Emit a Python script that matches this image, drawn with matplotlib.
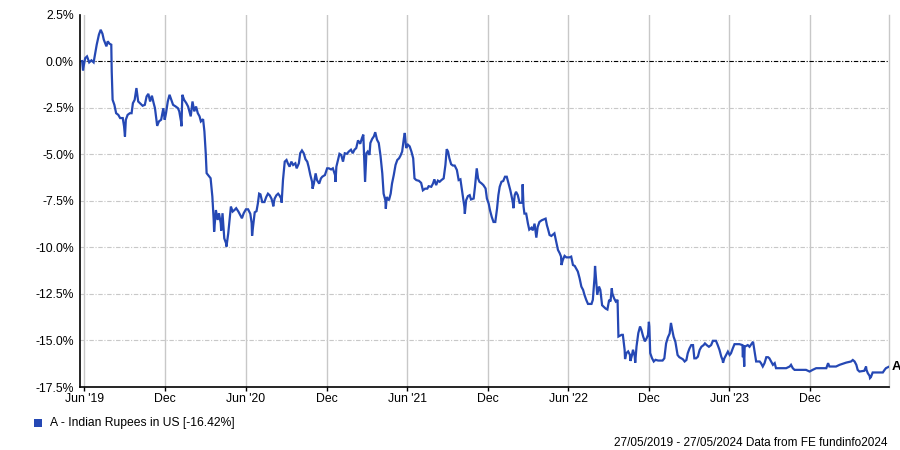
import matplotlib
matplotlib.use("Agg")
import matplotlib.pyplot as plt
from matplotlib.patches import Rectangle
import pandas as pd

plt.rcParams['font.family'] = ['Liberation Sans', 'DejaVu Sans']

dates = [
    "2019-05-27", "2019-05-29", "2019-05-31", "2019-06-03", "2019-06-07", "2019-06-12", "2019-06-17", "2019-06-22",
    "2019-06-25", "2019-06-29", "2019-07-04", "2019-07-08", "2019-07-12", "2019-07-15", "2019-07-21", "2019-07-24",
    "2019-07-28", "2019-08-01", "2019-08-02", "2019-08-04", "2019-08-08", "2019-08-12", "2019-08-17", "2019-08-21",
    "2019-08-27", "2019-08-30", "2019-09-01", "2019-09-03", "2019-09-07", "2019-09-12", "2019-09-16", "2019-09-19",
    "2019-09-23", "2019-09-27", "2019-10-01", "2019-10-05", "2019-10-11", "2019-10-16", "2019-10-20", "2019-10-24",
    "2019-10-28", "2019-11-01", "2019-11-05", "2019-11-08", "2019-11-13", "2019-11-17", "2019-11-22", "2019-11-27",
    "2019-11-30", "2019-12-03", "2019-12-07", "2019-12-11", "2019-12-15", "2019-12-19", "2019-12-25", "2019-12-30",
    "2020-01-02", "2020-01-06", "2020-01-07", "2020-01-09", "2020-01-13", "2020-01-18", "2020-01-22", "2020-01-28",
    "2020-02-01", "2020-02-05", "2020-02-09", "2020-02-13", "2020-02-17", "2020-02-20", "2020-02-25", "2020-02-28",
    "2020-03-02", "2020-03-04", "2020-03-10", "2020-03-13", "2020-03-17", "2020-03-20", "2020-03-21", "2020-03-25",
    "2020-03-29", "2020-04-01", "2020-04-05", "2020-04-06", "2020-04-09", "2020-04-13", "2020-04-17", "2020-04-18",
    "2020-04-22", "2020-04-25", "2020-04-28", "2020-05-02", "2020-05-06", "2020-05-10", "2020-05-15", "2020-05-19",
    "2020-05-23", "2020-05-27", "2020-06-01", "2020-06-06", "2020-06-11", "2020-06-14", "2020-06-15", "2020-06-17",
    "2020-06-21", "2020-06-25", "2020-06-28", "2020-07-01", "2020-07-04", "2020-07-08", "2020-07-13", "2020-07-17",
    "2020-07-21", "2020-07-25", "2020-07-29", "2020-08-01", "2020-08-02", "2020-08-05", "2020-08-09", "2020-08-13",
    "2020-08-16", "2020-08-20", "2020-08-21", "2020-08-24", "2020-08-28", "2020-09-01", "2020-09-04", "2020-09-08",
    "2020-09-12", "2020-09-16", "2020-09-21", "2020-09-24", "2020-09-29", "2020-10-02", "2020-10-06", "2020-10-10",
    "2020-10-14", "2020-10-18", "2020-10-21", "2020-10-25", "2020-10-29", "2020-10-30", "2020-11-02", "2020-11-06",
    "2020-11-09", "2020-11-14", "2020-11-18", "2020-11-21", "2020-11-27", "2020-12-02", "2020-12-06", "2020-12-11",
    "2020-12-15", "2020-12-20", "2020-12-21", "2020-12-23", "2020-12-27", "2020-12-30",
    "2021-01-03", "2021-01-07", "2021-01-11", "2021-01-16", "2021-01-20", "2021-01-25", "2021-01-29", "2021-02-02",
    "2021-02-06", "2021-02-10", "2021-02-15", "2021-02-19", "2021-02-22", "2021-02-25", "2021-02-26", "2021-03-01",
    "2021-03-04", "2021-03-08", "2021-03-10", "2021-03-14", "2021-03-18", "2021-03-21", "2021-03-25", "2021-03-29",
    "2021-04-02", "2021-04-06", "2021-04-09", "2021-04-13", "2021-04-14", "2021-04-16", "2021-04-21", "2021-04-25",
    "2021-04-28", "2021-05-02", "2021-05-06", "2021-05-10", "2021-05-14", "2021-05-17", "2021-05-21", "2021-05-25",
    "2021-05-27", "2021-05-30", "2021-06-03", "2021-06-07", "2021-06-11", "2021-06-15", "2021-06-18", "2021-06-22",
    "2021-06-28", "2021-07-03", "2021-07-07", "2021-07-12", "2021-07-17", "2021-07-20", "2021-07-26", "2021-07-30",
    "2021-08-02", "2021-08-06", "2021-08-10", "2021-08-14", "2021-08-18", "2021-08-23", "2021-08-27", "2021-08-30",
    "2021-09-02", "2021-09-05", "2021-09-09", "2021-09-13", "2021-09-17", "2021-09-22", "2021-09-26", "2021-09-30",
    "2021-10-03", "2021-10-07", "2021-10-09", "2021-10-10", "2021-10-13", "2021-10-17", "2021-10-21", "2021-10-24",
    "2021-10-30", "2021-11-02", "2021-11-05", "2021-11-06", "2021-11-09", "2021-11-12", "2021-11-17", "2021-11-21",
    "2021-11-26", "2021-11-29", "2021-12-03", "2021-12-06", "2021-12-10", "2021-12-14", "2021-12-18", "2021-12-22",
    "2021-12-25", "2021-12-28",
    "2022-01-01", "2022-01-05", "2022-01-09", "2022-01-13", "2022-01-17", "2022-01-21", "2022-01-25", "2022-01-27",
    "2022-01-28", "2022-01-31", "2022-02-03", "2022-02-07", "2022-02-11", "2022-02-15", "2022-02-17", "2022-02-18",
    "2022-02-20", "2022-02-22", "2022-02-26", "2022-03-02", "2022-03-05", "2022-03-10", "2022-03-13", "2022-03-17",
    "2022-03-20", "2022-03-21", "2022-03-24", "2022-03-28", "2022-04-02", "2022-04-06", "2022-04-11", "2022-04-14",
    "2022-04-16", "2022-04-20", "2022-04-24", "2022-05-01", "2022-05-05", "2022-05-09", "2022-05-13", "2022-05-16",
    "2022-05-17", "2022-05-20", "2022-05-24", "2022-05-28", "2022-06-04", "2022-06-08", "2022-06-12", "2022-06-16",
    "2022-06-19", "2022-06-23", "2022-06-27", "2022-07-01", "2022-07-05", "2022-07-08", "2022-07-12", "2022-07-16",
    "2022-07-24", "2022-07-27", "2022-07-31", "2022-08-01", "2022-08-04", "2022-08-06", "2022-08-10", "2022-08-13",
    "2022-08-17", "2022-08-21", "2022-08-25", "2022-08-29", "2022-09-02", "2022-09-05", "2022-09-08", "2022-09-09",
    "2022-09-13", "2022-09-17", "2022-09-21", "2022-09-23", "2022-09-30", "2022-10-03", "2022-10-07", "2022-10-08",
    "2022-10-11", "2022-10-15", "2022-10-19", "2022-10-20", "2022-10-23", "2022-10-26", "2022-10-30", "2022-10-31",
    "2022-11-03", "2022-11-07", "2022-11-11", "2022-11-14", "2022-11-18", "2022-11-22", "2022-11-26", "2022-11-29",
    "2022-12-01", "2022-12-02", "2022-12-04", "2022-12-08", "2022-12-12", "2022-12-16", "2022-12-22", "2022-12-28",
    "2023-01-01", "2023-01-05", "2023-01-09", "2023-01-13", "2023-01-17", "2023-01-20", "2023-01-23", "2023-01-26",
    "2023-01-30", "2023-02-04", "2023-02-08", "2023-02-16", "2023-02-20", "2023-02-24", "2023-02-27", "2023-03-03",
    "2023-03-07", "2023-03-11", "2023-03-14", "2023-03-18", "2023-03-22", "2023-03-26", "2023-03-30", "2023-04-04",
    "2023-04-07", "2023-04-11", "2023-04-16", "2023-04-21", "2023-04-25", "2023-05-02", "2023-05-06", "2023-05-10",
    "2023-05-14", "2023-05-17", "2023-05-18", "2023-05-21", "2023-05-25", "2023-05-29", "2023-06-02", "2023-06-05",
    "2023-06-09", "2023-06-13", "2023-06-24", "2023-07-01", "2023-07-02", "2023-07-03", "2023-07-05", "2023-07-06",
    "2023-07-13", "2023-07-17", "2023-07-21", "2023-07-25", "2023-07-28", "2023-08-01", "2023-08-09", "2023-08-12",
    "2023-08-16", "2023-08-20", "2023-08-24", "2023-08-28", "2023-08-31", "2023-09-04", "2023-09-08", "2023-09-12",
    "2023-09-15", "2023-10-08", "2023-10-16", "2023-10-19", "2023-10-23", "2023-10-27", "2023-11-22", "2023-11-30",
    "2023-12-07", "2023-12-15",
    "2024-01-07", "2024-01-11", "2024-01-14", "2024-01-29", "2024-02-06", "2024-02-21", "2024-03-03", "2024-03-07",
    "2024-03-11", "2024-03-15", "2024-03-18", "2024-03-22", "2024-04-02", "2024-04-06", "2024-04-07", "2024-04-10",
    "2024-04-14", "2024-04-15", "2024-04-17", "2024-04-21", "2024-05-14", "2024-05-18", "2024-05-21", "2024-05-27",
]

pct_change = [
    0.00, -0.50, -0.20, 0.16, 0.25, -0.07, 0.04, -0.07,
    0.34, 0.88, 1.42, 1.68, 1.47, 1.15, 0.79, 1.06,
    0.93, 0.88, -0.56, -2.08, -2.35, -2.80, -2.89, -3.06,
    -3.06, -3.51, -4.05, -3.15, -2.89, -2.80, -2.80, -2.26,
    -2.08, -1.45, -2.17, -2.26, -2.40, -2.35, -1.90, -1.76,
    -2.17, -1.86, -2.26, -2.53, -3.48, -3.24, -3.15, -2.53,
    -3.15, -2.80, -2.17, -1.81, -2.08, -2.35, -2.44, -2.53,
    -2.70, -3.24, -3.50, -1.81, -2.08, -2.26, -2.44, -2.97,
    -2.17, -2.70, -2.44, -2.80, -2.97, -3.24, -3.12, -3.78,
    -4.95, -6.02, -6.20, -6.29, -7.28, -8.53, -9.16, -8.00,
    -8.53, -8.17, -8.71, -9.10, -8.17, -9.52, -9.78, -9.96,
    -9.25, -8.53, -7.81, -8.08, -8.00, -7.90, -8.08, -8.26,
    -8.44, -8.17, -7.96, -7.96, -8.20, -8.70, -9.38, -8.93,
    -8.12, -8.06, -7.66, -7.12, -7.16, -7.57, -7.57, -7.30,
    -7.12, -7.21, -7.39, -7.66, -7.80, -7.39, -7.21, -7.12,
    -7.21, -7.39, -7.60, -6.39, -5.40, -5.31, -5.49, -5.67,
    -5.40, -5.58, -5.49, -5.76, -5.49, -4.95, -4.80, -4.95,
    -5.27, -5.40, -5.67, -6.12, -6.49, -6.85, -6.58, -6.03,
    -6.39, -6.58, -6.30, -6.21, -6.12, -5.76, -5.76, -5.82,
    -5.76, -6.12, -6.49, -5.67, -5.27, -4.98,
    -5.04, -5.40, -4.95, -4.98, -4.86, -4.76, -4.95, -4.76,
    -4.67, -4.26, -4.44, -4.13, -3.95, -5.85, -6.49, -4.95,
    -4.86, -5.04, -4.40, -4.18, -4.04, -3.82, -4.22, -4.40,
    -5.09, -6.03, -7.12, -7.48, -7.93, -7.30, -7.48, -7.12,
    -6.58, -6.12, -5.58, -5.31, -5.22, -5.09, -4.86, -4.13,
    -3.86, -4.67, -4.49, -4.58, -4.86, -5.22, -6.30, -6.39,
    -6.43, -6.54, -6.94, -6.85, -6.85, -6.72, -6.75, -6.57,
    -6.35, -6.66, -6.42, -6.48, -6.39, -6.30, -5.58, -4.73,
    -4.86, -5.22, -5.54, -5.61, -5.61, -5.85, -6.39, -6.35,
    -6.84, -7.47, -7.83, -8.20, -7.47, -7.25, -7.20, -7.43,
    -7.38, -6.75, -6.03, -5.76, -6.30, -6.48, -6.57, -6.66,
    -6.84, -7.38, -7.65, -8.01, -8.37, -8.64, -8.64, -7.92,
    -7.20, -6.75,
    -6.48, -6.44, -6.21, -6.21, -6.57, -6.93, -7.38, -7.65,
    -7.90, -7.20, -7.02, -7.20, -7.61, -7.61, -7.61, -6.62,
    -7.80, -8.19, -8.19, -8.73, -9.05, -8.95, -9.09, -8.73,
    -9.27, -9.48, -8.91, -8.64, -8.55, -8.51, -8.46, -8.82,
    -8.98, -9.34, -9.39, -9.25, -9.70, -10.14, -10.32, -10.50,
    -10.95, -10.68, -10.46, -10.54, -10.54, -10.50, -10.95, -11.00,
    -11.13, -11.30, -11.66, -12.11, -12.29, -12.55, -12.82, -13.04,
    -13.04, -12.82, -11.57, -11.00, -11.93, -12.55, -12.11, -12.29,
    -13.11, -13.20, -13.29, -13.34, -12.82, -12.91, -12.20, -12.46,
    -12.73, -12.91, -12.82, -14.79, -14.70, -14.70, -15.50, -16.00,
    -15.68, -15.59, -15.77, -16.10, -15.86, -15.50, -15.86, -16.20,
    -15.32, -14.61, -14.25, -14.43, -14.79, -15.05, -14.88, -14.70,
    -14.00, -14.25, -15.68, -15.95, -16.13, -16.04, -16.08, -16.08,
    -16.08, -15.96, -15.16, -14.84, -14.63, -14.06, -14.45, -14.80,
    -15.07, -15.78, -15.90, -16.01, -16.13, -16.05, -15.69, -15.43,
    -15.25, -15.25, -15.96, -15.96, -15.87, -15.51, -15.34, -15.25,
    -15.16, -15.25, -15.34, -15.25, -15.02, -15.02, -15.25, -15.51,
    -15.87, -16.05, -16.20, -15.96, -15.78, -15.60, -15.78, -15.69,
    -15.43, -15.20, -15.20, -15.25, -15.90, -15.25, -16.40, -15.34,
    -15.25, -15.34, -15.20, -15.07, -15.51, -16.13, -16.13, -16.22,
    -16.40, -16.22, -15.90, -15.90, -15.96, -16.13, -16.31, -16.22,
    -16.49, -16.49, -16.40, -16.31, -16.49, -16.58, -16.58, -16.67,
    -16.58, -16.49,
    -16.49, -16.22, -16.40, -16.40, -16.31, -16.19, -16.13, -16.05,
    -16.13, -16.31, -16.58, -16.67, -16.63, -16.40, -16.58, -16.76,
    -16.90, -17.02, -16.97, -16.72, -16.72, -16.58, -16.49, -16.42,
]

y_ticks = [2.5, 0.0, -2.5, -5.0, -7.5, -10.0, -12.5, -15.0, -17.5]
x_tick_dates = ["2019-06-01", "2019-12-01", "2020-06-01", "2020-12-01", "2021-06-01",
                "2021-12-01", "2022-06-01", "2022-12-01", "2023-06-01", "2023-12-01"]
x_tick_labels = ["Jun '19", "Dec", "Jun '20", "Dec", "Jun '21", "Dec", "Jun '22", "Dec", "Jun '23", "Dec"]
series_label = "A - Indian Rupees in US [-16.42%]"
footer = "27/05/2019 - 27/05/2024 Data from FE fundinfo2024"

LINE_COLOR = "#2548b4"
GRID_COLOR = "#c8c8c8"

W, H = 900, 450
fig = plt.figure(figsize=(W / 100, H / 100), dpi=100)
ax = fig.add_axes([79.5 / W, 1 - 387 / H, (889 - 79.5) / W, (387 - 14.5) / H])

x = pd.to_datetime(dates)
ax.plot(x, pct_change, color=LINE_COLOR, lw=1.6, solid_joinstyle='miter', zorder=3)

ax.set_ylim(-17.5, 2.5)
ax.set_xlim(pd.Timestamp("2019-05-21"), pd.Timestamp("2024-05-28"))

ax.set_yticks(y_ticks)
ax.set_yticklabels([f"{v:.1f}%" for v in y_ticks])
ax.set_xticks(pd.to_datetime(x_tick_dates))
ax.set_xticklabels(x_tick_labels)

# grid
for v in y_ticks:
    if v == 0.0:
        ax.axhline(v, color="black", lw=0.8, ls=(0, (4, 1.5, 1, 1.5)), zorder=2)
    elif v not in (2.5, -17.5):
        ax.axhline(v, color=GRID_COLOR, lw=0.8, ls=(0, (4, 1.5, 1, 1.5)), zorder=1)
for d in x_tick_dates:
    ax.axvline(pd.Timestamp(d), color=GRID_COLOR, lw=1.0, zorder=1)

ax.spines["top"].set_visible(False)
ax.spines["right"].set_color(GRID_COLOR)
ax.spines["right"].set_linewidth(1.0)
ax.spines["left"].set_color("black")
ax.spines["bottom"].set_color("black")
ax.spines["left"].set_linewidth(1.2)
ax.spines["bottom"].set_linewidth(1.2)

ax.tick_params(axis="y", length=0, pad=4, labelsize=8.8, colors="black")
ax.tick_params(axis="x", length=3, width=1, pad=1, labelsize=8.8, colors="black", direction="out")

ax.annotate("A", xy=(x[-1], pct_change[-1]), xytext=(2.5, 0), textcoords="offset points",
            va="center", ha="left", fontsize=9.5, fontweight="bold", annotation_clip=False)

# legend
fig.add_artist(Rectangle((34 / W, 1 - 427 / H), 7.7 / W, 8 / H, transform=fig.transFigure,
                         facecolor=LINE_COLOR, edgecolor="none"))
fig.text(50 / W, 1 - 423 / H, series_label, fontsize=8.7, va="center", ha="left")
fig.text(887 / W, 1 - 443 / H, footer, fontsize=8.5, va="center", ha="right")

fig.savefig("out.png", dpi=100)
